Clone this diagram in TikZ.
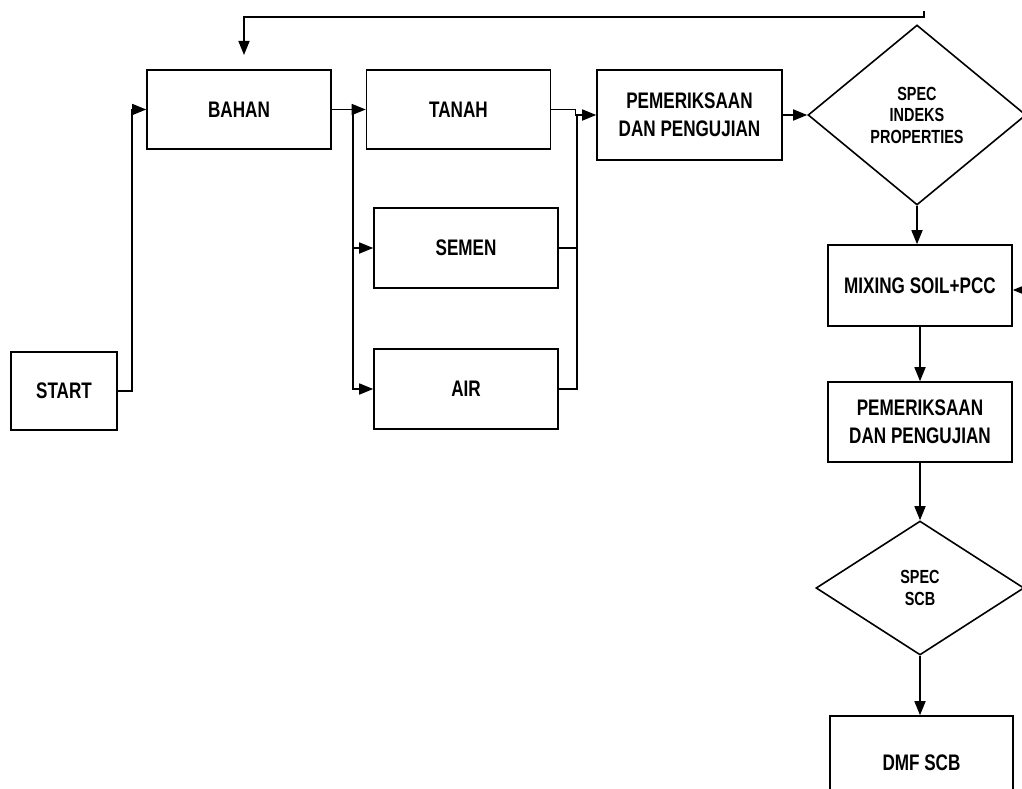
\documentclass[tikz,border=0pt]{standalone}
\usepackage{fontspec}
\newfontfamily\flowfont{Liberation Sans}[FakeStretch=0.76]
\usetikzlibrary{arrows.meta,shapes.geometric}

\begin{document}
\begin{tikzpicture}[
          x=1pt, y=-1pt, line width=1.6pt,
          box/.style={rectangle, draw, inner sep=0pt, align=center,
              font=\flowfont\bfseries\fontsize{22.5}{28}\selectfont},
          decision/.style={diamond, draw, inner sep=0pt, align=center,
              font=\flowfont\bfseries\fontsize{19}{21.5}\selectfont},
          arr/.style={-{Triangle[length=14pt,width=11pt]}}
    ]
      \useasboundingbox (0,0) rectangle (1022,789);
      \clip (0,0) rectangle (1022,789);

        \node[box, minimum width=106pt, minimum height=78pt] (start) at (64,391) {START};
        \node[box, minimum width=184pt, minimum height=79pt] (bahan) at (239,109.5) {BAHAN};

        \node[box, minimum width=184pt, minimum height=79pt] (tanah) at (458.5,109.5) {TANAH};
        \node[box, minimum width=184pt, minimum height=80pt] (semen) at (466,248) {SEMEN};
        \node[box, minimum width=184pt, minimum height=80pt] (air) at (466,389) {AIR};

        \node[box, minimum width=185pt, minimum height=90pt] (uji1) at (689.5,115)
            {PEMERIKSAAN\\DAN PENGUJIAN};
        \node[decision, minimum width=218pt, minimum height=180pt] (spec1) at (917,115)
            {SPEC\\INDEKS\\PROPERTIES};

        \node[box, minimum width=184pt, minimum height=81pt] (mixing) at (920,285.5) {MIXING SOIL+PCC};
        \node[box, minimum width=184pt, minimum height=80pt] (uji2) at (920,422)
            {PEMERIKSAAN\\DAN PENGUJIAN};
        \node[decision, minimum width=208pt, minimum height=134pt] (spec2) at (920,588)
            {SPEC\\SCB};
        \node[box, minimum width=183pt, minimum height=94pt] (dmf) at (921.5,763) {DMF SCB};

        \coordinate (split) at (353,109.5);
        \coordinate (join) at (577,115);
        \coordinate (loop) at (924,11);
        \coordinate (back) at (244,55);
        \coordinate (fbin) at (1030,290);

        \draw[arr] (start.east) -- ++(14,0) |- (bahan.west);
        \draw[arr] (bahan.east) -- (tanah.west);
        \draw[arr] (split) |- (semen.west);
        \draw[arr] (split) |- (air.west);

        \draw[arr] (tanah.east) -- ++(24,0) |- (uji1.west);
        \draw (semen.east) -| (join);
        \draw (air.east) -| (join);

        \draw[arr] (uji1.east) -- (spec1.west);
        \draw[arr] (spec1.south) -- (spec1.south |- mixing.north);
        \draw[arr] (fbin) -- (fbin -| mixing.east);
        \draw[arr] (mixing.south) -- (uji2.north);
        \draw[arr] (uji2.south) -- (spec2.north);
        \draw[arr] (spec2.south) -- (spec2.south |- dmf.north);

        \draw[arr] (loop) -- ++(0,6) -| (back);

      \end{tikzpicture}
\end{document}
